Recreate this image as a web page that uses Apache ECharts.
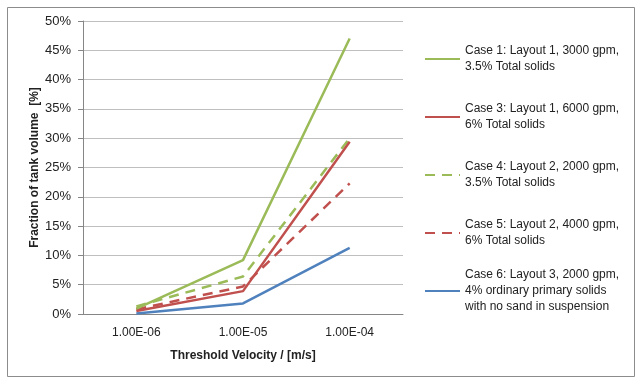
<!DOCTYPE html>
<html>
<head>
<meta charset="utf-8">
<script src="https://cdn.jsdelivr.net/npm/echarts@6/dist/echarts.min.js"></script>
<style>html,body{margin:0;padding:0;background:#fff}#c{width:641px;height:385px}</style>
</head>
<body>
<div id="c"></div>
<script>
var categories = ['1.00E-06', '1.00E-05', '1.00E-04'];
var yTicks = [0, 0.05, 0.10, 0.15, 0.20, 0.25, 0.30, 0.35, 0.40, 0.45, 0.50];
var case1 = [0.009, 0.092, 0.470];
var case3 = [0.005, 0.039, 0.294];
var case4 = [0.013, 0.064, 0.300];
var case5 = [0.008, 0.047, 0.223];
var case6 = [0.001, 0.018, 0.113];
var names = [
  'Case 1: Layout 1, 3000 gpm,\n3.5% Total solids',
  'Case 3: Layout 1, 6000 gpm,\n6% Total solids',
  'Case 4: Layout 2, 2000 gpm,\n3.5% Total solids',
  'Case 5: Layout 2, 4000 gpm,\n6% Total solids',
  'Case 6: Layout 3, 2000 gpm,\n4% ordinary primary solids\nwith no sand in suspension'
];
var colors = ['#9BBB59', '#C0504D', '#9BBB59', '#C0504D', '#4F81BD'];
var dashes = ['solid', 'solid', [10, 7], [10, 7], 'solid'];
var seriesData = [case1, case3, case4, case5, case6];

var FONT = 'Liberation Sans';
var chart = echarts.init(document.getElementById('c'));
var series = seriesData.map(function (d, i) {
  return {
    name: names[i], type: 'line', data: d, symbol: 'none',
    lineStyle: { color: colors[i], width: 2.5, type: dashes[i] },
    itemStyle: { color: colors[i] }, z: 10 - i
  };
});
chart.setOption({
  backgroundColor: '#fff',
  animation: false,
  graphic: [{
    type: 'rect', shape: { x: 7.5, y: 7.5, width: 627, height: 369 },
    style: { fill: 'none', stroke: '#8c8c8c', lineWidth: 1 }, silent: true
  }],
  grid: { left: 83, right: 238, top: 21, bottom: 71 },
  legend: {
    orient: 'vertical', left: 419, top: 14, itemGap: -22,
    itemWidth: 35, itemHeight: 14,
    itemStyle: { opacity: 0 },
    textStyle: { fontFamily: FONT, fontSize: 12, color: '#222', lineHeight: 16 },
    data: names.map(function (n) {
      var lines = n.split('\n').length;
      var pt = 32, pb = 32 - (lines - 1) * 16;
      return { name: n, textStyle: { padding: [pt, 0, pb, 0] } };
    })
  },
  xAxis: {
    type: 'category', data: categories, boundaryGap: true,
    name: 'Threshold Velocity / [m/s]', nameLocation: 'middle', nameGap: 36,
    nameTextStyle: { fontFamily: FONT, fontSize: 12, fontWeight: 'bold', color: '#222' },
    axisLine: { lineStyle: { color: '#868686' } },
    axisTick: { alignWithLabel: false, length: 5, lineStyle: { color: '#868686' } },
    axisLabel: { fontFamily: FONT, fontSize: 12, color: '#222', margin: 13 }
  },
  yAxis: {
    type: 'value', min: 0, max: 0.5, interval: 0.05,
    name: 'Fraction of tank volume  [%]', nameLocation: 'middle', nameGap: 42,
    nameTextStyle: { fontFamily: FONT, fontSize: 12, fontWeight: 'bold', color: '#222' },
    axisLine: { show: true, lineStyle: { color: '#868686' } },
    axisTick: { show: true, length: 5, lineStyle: { color: '#868686' } },
    splitLine: { lineStyle: { color: '#bfbfbf', width: 1 } },
    axisLabel: {
      fontFamily: FONT, fontSize: 13, color: '#222', margin: 12,
      formatter: function (v) {
        for (var k = 0; k < yTicks.length; k++) {
          if (Math.abs(yTicks[k] - v) < 1e-9) return Math.round(yTicks[k] * 100) + '%';
        }
        return '';
      }
    }
  },
  series: series
});
</script>
</body>
</html>
